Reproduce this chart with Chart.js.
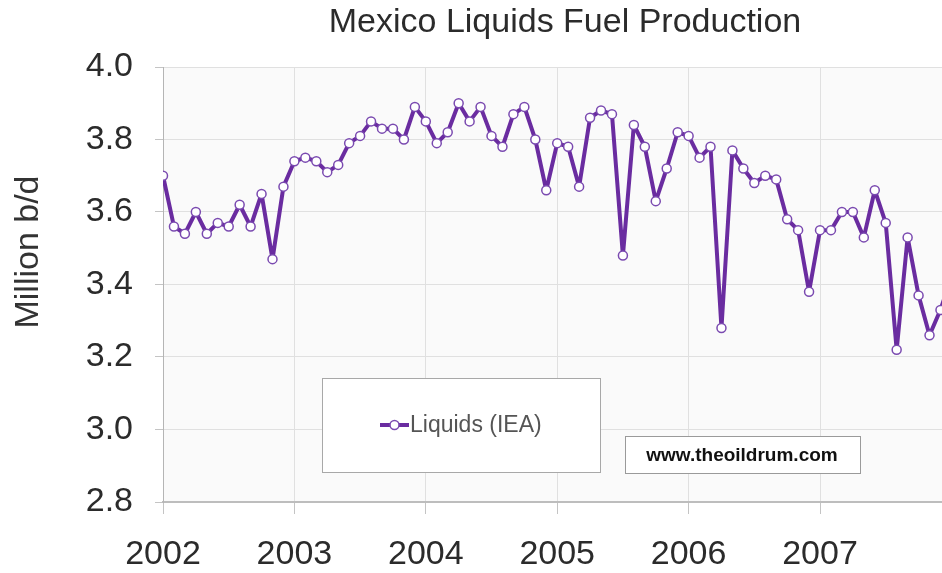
<!DOCTYPE html>
<html>
<head>
<meta charset="utf-8">
<script src="https://cdn.jsdelivr.net/npm/chart.js@4.4.1/dist/chart.umd.min.js"></script>
<style>
  html, body { margin: 0; padding: 0; background: #fff; }
  #wrap { position: relative; width: 942px; height: 573px; }
</style>
</head>
<body>
<div id="wrap"><canvas id="chart"></canvas></div>
<script>
// monthly values, Jan 2002 .. Jan 2008 (million b/d)
const liquids2002 = [3.70, 3.56, 3.54, 3.60, 3.54, 3.57, 3.56, 3.62, 3.56, 3.65, 3.47, 3.67];
const liquids2003 = [3.74, 3.75, 3.74, 3.71, 3.73, 3.79, 3.81, 3.85, 3.83, 3.83, 3.80, 3.89];
const liquids2004 = [3.85, 3.79, 3.82, 3.90, 3.85, 3.89, 3.81, 3.78, 3.87, 3.89, 3.80, 3.66];
const liquids2005 = [3.79, 3.78, 3.67, 3.86, 3.88, 3.87, 3.48, 3.84, 3.78, 3.63, 3.72, 3.82];
const liquids2006 = [3.81, 3.75, 3.78, 3.28, 3.77, 3.72, 3.68, 3.70, 3.69, 3.58, 3.55, 3.38];
const liquids2007 = [3.55, 3.55, 3.60, 3.60, 3.53, 3.66, 3.57, 3.22, 3.53, 3.37, 3.26, 3.33];
const liquids2008 = [3.42];

const years = ['2002', '2003', '2004', '2005', '2006', '2007'];
const yTicks = [2.8, 3.0, 3.2, 3.4, 3.6, 3.8, 4.0];

const liquids = [].concat(liquids2002, liquids2003, liquids2004, liquids2005, liquids2006, liquids2007, liquids2008);
const points = liquids.map((v, i) => ({ x: i, y: v }));

const FONT = "'Liberation Sans', Arial, sans-serif";

// background, legend box, watermark, titles
const decorations = {
  id: 'decorations',
  beforeDraw(chart) {
    const { ctx, chartArea: a } = chart;
    ctx.save();
    ctx.fillStyle = '#fafafa';
    ctx.fillRect(a.left, a.top, a.right - a.left, a.bottom - a.top);
    ctx.restore();
  },
  afterDraw(chart) {
    const ctx = chart.ctx;
    ctx.save();
    // chart title
    ctx.fillStyle = '#2b2b2b';
    ctx.font = '34px ' + FONT;
    ctx.textAlign = 'center';
    ctx.textBaseline = 'middle';
    ctx.fillText('Mexico Liquids Fuel Production', 565, 23);

    // y axis title
    ctx.save();
    ctx.translate(29, 252);
    ctx.rotate(-Math.PI / 2);
    ctx.fillStyle = '#333';
    ctx.font = '34px ' + FONT;
    ctx.fillText('Million b/d', 0, 0);
    ctx.restore();

    // legend box
    ctx.fillStyle = '#fff';
    ctx.fillRect(322, 378, 278, 94);
    ctx.strokeStyle = '#a8a8a8';
    ctx.lineWidth = 1;
    ctx.strokeRect(322.5, 378.5, 278, 94);
    ctx.strokeStyle = '#6a2ca0';
    ctx.lineWidth = 4;
    ctx.beginPath();
    ctx.moveTo(380, 425);
    ctx.lineTo(409, 425);
    ctx.stroke();
    ctx.beginPath();
    ctx.arc(394.5, 425, 4.5, 0, Math.PI * 2);
    ctx.fillStyle = '#fff';
    ctx.fill();
    ctx.lineWidth = 1.5;
    ctx.strokeStyle = '#7a4ab0';
    ctx.stroke();
    ctx.fillStyle = '#555';
    ctx.font = '23px ' + FONT;
    ctx.textAlign = 'left';
    ctx.fillText('Liquids (IEA)', 410, 426);

    // watermark
    ctx.fillStyle = '#fff';
    ctx.fillRect(625, 436, 235, 37);
    ctx.strokeStyle = '#9a9a9a';
    ctx.lineWidth = 1;
    ctx.strokeRect(625.5, 436.5, 235, 37);
    ctx.fillStyle = '#111';
    ctx.font = 'bold 19px ' + FONT;
    ctx.textAlign = 'center';
    ctx.fillText('www.theoildrum.com', 742, 456);
    ctx.restore();
  }
};

new Chart(document.getElementById('chart'), {
  type: 'line',
  data: {
    datasets: [{
      label: 'Liquids (IEA)',
      data: points,
      borderColor: '#6a2ca0',
      borderWidth: 4,
      borderJoinStyle: 'round',
      borderCapStyle: 'round',
      tension: 0,
      pointRadius: 4.5,
      pointBackgroundColor: '#fff',
      pointBorderColor: '#7a4ab0',
      pointBorderWidth: 1.5
    }]
  },
  options: {
    responsive: true,
    maintainAspectRatio: false,
    animation: false,
    layout: { autoPadding: false, padding: { top: 67, right: 0, bottom: 0, left: 0 } },
    plugins: {
      legend: { display: false },
      title: { display: false },
      tooltip: { enabled: false }
    },
    scales: {
      x: {
        type: 'linear',
        min: 0,
        max: 71.14,
        afterBuildTicks: (scale) => {
          scale.ticks = years.map((y, i) => ({ value: i * 12 }));
        },
        afterFit: (scale) => {
          scale.height = 71;
          scale.paddingRight = 0;
        },
        grid: { color: '#e0e0e0', tickColor: '#c4c4c4', tickLength: 12 },
        border: { color: '#bdbdbd', width: 2 },
        ticks: {
          color: '#2b2b2b',
          font: { family: FONT, size: 34 },
          padding: 20,
          maxRotation: 0,
          callback: (v) => years[Math.round(v / 12)]
        }
      },
      y: {
        min: 2.8,
        max: 4.0,
        afterBuildTicks: (scale) => {
          scale.ticks = yTicks.map((v) => ({ value: v }));
        },
        afterFit: (scale) => { scale.width = 163; },
        grid: { color: '#e0e0e0', tickColor: '#c4c4c4', tickLength: 8 },
        border: { color: '#b5b5b5', width: 1 },
        ticks: {
          color: '#2b2b2b',
          font: { family: FONT, size: 34 },
          padding: 22,
          callback: (v) => v.toFixed(1)
        }
      }
    }
  },
  plugins: [decorations]
});
</script>
</body>
</html>
